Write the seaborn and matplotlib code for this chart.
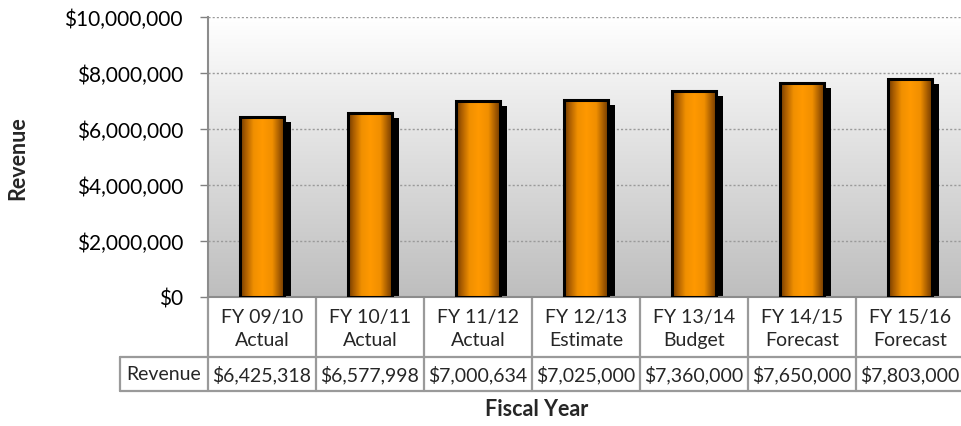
import numpy as np
import pandas as pd
import matplotlib
matplotlib.use("Agg")
import matplotlib.pyplot as plt
import seaborn as sns
from matplotlib.colors import LinearSegmentedColormap
from matplotlib.patches import Rectangle
from matplotlib.transforms import ScaledTranslation, blended_transform_factory
from matplotlib.ticker import FuncFormatter

# ---- data ----
categories = ["FY 09/10\nActual", "FY 10/11\nActual", "FY 11/12\nActual",
              "FY 12/13\nEstimate", "FY 13/14\nBudget", "FY 14/15\nForecast",
              "FY 15/16\nForecast"]
revenue = [6425318, 6577998, 7000634, 7025000, 7360000, 7650000, 7803000]
revenue_labels = ["$6,425,318", "$6,577,998", "$7,000,634", "$7,025,000",
                  "$7,360,000", "$7,650,000", "$7,803,000"]
yticks = [0, 2000000, 4000000, 6000000, 8000000, 10000000]

sns.set_theme(style="white")
plt.rcParams['font.family'] = ['Lato', 'DejaVu Sans']

W, H = 961, 427
fig = plt.figure(figsize=(W / 100, H / 100), dpi=100)
ax_left, ax_right, ax_top, ax_bot = 208, 964, 18, 298
ax = fig.add_axes([ax_left / W, 1 - ax_bot / H, (ax_right - ax_left) / W, (ax_bot - ax_top) / H])

df = pd.DataFrame({"cat": categories, "rev": revenue})
sns.barplot(data=df, x="cat", y="rev", ax=ax, width=0.41, color="#ff9900",
            saturation=1, zorder=3)

# background gradient (gray at bottom, white at top)
bg = np.linspace(0.0, 1.0, 256).reshape(-1, 1)
bg_cmap = LinearSegmentedColormap.from_list("bg", ["#bebebe", "#ffffff"])
ax.imshow(bg, cmap=bg_cmap, aspect="auto", extent=[0, 1, 0, 1],
          transform=ax.transAxes, zorder=0, origin="lower", vmin=0, vmax=1)

# bar gradients and shadows
bar_cmap = LinearSegmentedColormap.from_list(
    "bar", [(0.0, "#6e3a00"), (0.12, "#a85c00"), (0.3, "#f08f00"),
            (0.5, "#ff9900"), (0.72, "#f08f00"), (0.9, "#9a5400"), (1.0, "#6e3a00")])
grad = np.linspace(0, 1, 256).reshape(1, -1)
shadow_tr = ax.transData + ScaledTranslation(6.5 / 100, -5 / 100, fig.dpi_scale_trans)
for p in ax.patches[:]:
    x, w, h = p.get_x(), p.get_width(), p.get_height()
    sh = Rectangle((x, 0), w, h, transform=shadow_tr, facecolor="black",
                   edgecolor="none", zorder=2)
    ax.add_patch(sh)
    sh.set_clip_path(ax.patch)
    im = ax.imshow(grad, cmap=bar_cmap, aspect="auto",
                   extent=[x, x + w, 0, h], zorder=3)
    im.set_clip_path(p)
    p.set_facecolor("none")
    p.set_edgecolor("black")
    p.set_linewidth(2.2)
    p.set_zorder(4)

ax.set_xlim(-0.5, len(categories) - 0.5)
ax.set_ylim(0, 10000000)
ax.set_yticks(yticks)
ax.yaxis.set_major_formatter(FuncFormatter(lambda v, _: f"${v:,.0f}"))
ax.tick_params(axis="y", labelsize=15, length=6, width=1, color="#808080",
               left=True, pad=12, labelcolor="black")
ax.set_xticks([])
ax.set_xlabel("")
ax.set_ylabel("")
ax.grid(axis="y", color="#9a9a9a", linestyle=(0, (1.5, 1.5)), linewidth=1, zorder=1)
ax.set_axisbelow(True)
for s in ["top", "right"]:
    ax.spines[s].set_visible(False)
for s in ["left", "bottom"]:
    ax.spines[s].set_color("#8c8c8c")
    ax.spines[s].set_linewidth(1.5)

# data table below
tr = blended_transform_factory(ax.transData, fig.transFigure)
def fy(py):
    return 1 - py / H
row1_bot, row2_bot = 358, 392
n = len(categories)
line_kw = dict(color="#9a9a9a", linewidth=1.6, clip_on=False)
for i in range(n + 1):
    xb = i - 0.5
    ax.plot([xb, xb], [fy(ax_bot), fy(row2_bot)], transform=tr, **line_kw)
ax.plot([120 / W, ax_right / W], [fy(row1_bot), fy(row1_bot)], transform=fig.transFigure, **line_kw)
ax.plot([120 / W, ax_right / W], [fy(row2_bot), fy(row2_bot)], transform=fig.transFigure, **line_kw)
ax.plot([120 / W, 120 / W], [fy(row1_bot), fy(row2_bot)], transform=fig.transFigure, **line_kw)

for i, (c, v) in enumerate(zip(categories, revenue_labels)):
    ax.text(i, fy((ax_bot + row1_bot) / 2 + 1), c, transform=tr, ha="center",
            va="center", fontsize=14, linespacing=1.4)
    ax.text(i, fy((row1_bot + row2_bot) / 2), v, transform=tr, ha="center",
            va="center", fontsize=14)
fig.text(164 / W, fy((row1_bot + row2_bot) / 2), "Revenue", ha="center",
         va="center", fontsize=14)

fig.text(18 / W, fy(158), "Revenue", rotation=90, ha="center",
         va="center", fontsize=15.5, fontweight="bold")
fig.text(537 / W, fy(410), "Fiscal Year", ha="center", va="center",
         fontsize=15.5, fontweight="bold")

fig.savefig("out.png", dpi=100, facecolor="white")
